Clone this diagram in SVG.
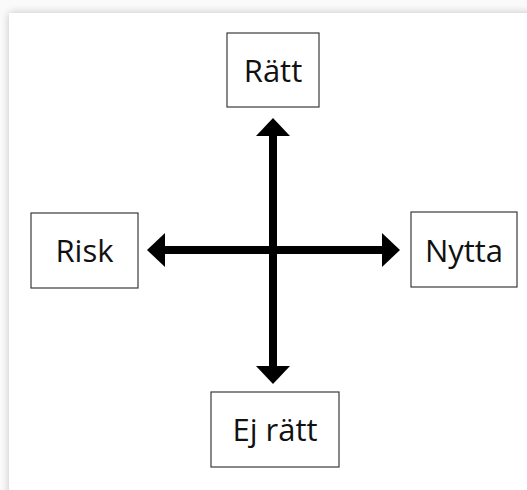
<svg xmlns="http://www.w3.org/2000/svg" width="527" height="490" viewBox="0 0 527 490">
  <defs>
    <filter id="shadow" x="-10%" y="-10%" width="130%" height="130%">
      <feGaussianBlur in="SourceAlpha" stdDeviation="4"/>
      <feOffset dx="0" dy="0" result="b"/>
      <feComponentTransfer><feFuncA type="linear" slope="0.22"/></feComponentTransfer>
      <feMerge><feMergeNode/><feMergeNode in="SourceGraphic"/></feMerge>
    </filter>
    <marker id="head" markerUnits="userSpaceOnUse" markerWidth="18" markerHeight="34" refX="0" refY="17" orient="auto-start-reverse" viewBox="0 0 18 34">
      <path d="M0,0 L18,17 L0,34 Z" fill="#000"/>
    </marker>
    <style>
      .box { fill: #fff; stroke: #3a3a3a; stroke-width: 1.2; }
      .lbl { font-family: "Open Sans", "Liberation Sans", sans-serif; font-size: 31px; fill: #111; text-anchor: middle; }
      .arrow { stroke: #000; stroke-width: 8; fill: none; marker-start: url(#head); marker-end: url(#head); }
    </style>
  </defs>
  <rect x="0" y="0" width="527" height="490" fill="#fafafa"/>
  <rect x="9" y="13" width="540" height="500" fill="#fff" filter="url(#shadow)"/>

  <g id="connectors">
    <line class="arrow" x1="273" y1="136" x2="273" y2="366"/>
    <line class="arrow" x1="165" y1="250" x2="382" y2="250"/>
  </g>

  <g id="node-ratt">
    <rect class="box" x="227" y="33" width="92" height="74"/>
    <text class="lbl" x="273" y="82">Rätt</text>
  </g>
  <g id="node-risk">
    <rect class="box" x="31" y="213" width="107" height="75"/>
    <text class="lbl" x="84.5" y="262">Risk</text>
  </g>
  <g id="node-nytta">
    <rect class="box" x="411" y="212" width="106" height="75"/>
    <text class="lbl" x="464" y="262">Nytta</text>
  </g>
  <g id="node-ejratt">
    <rect class="box" x="211" y="392" width="128" height="75"/>
    <text class="lbl" x="275" y="441">Ej rätt</text>
  </g>
</svg>
